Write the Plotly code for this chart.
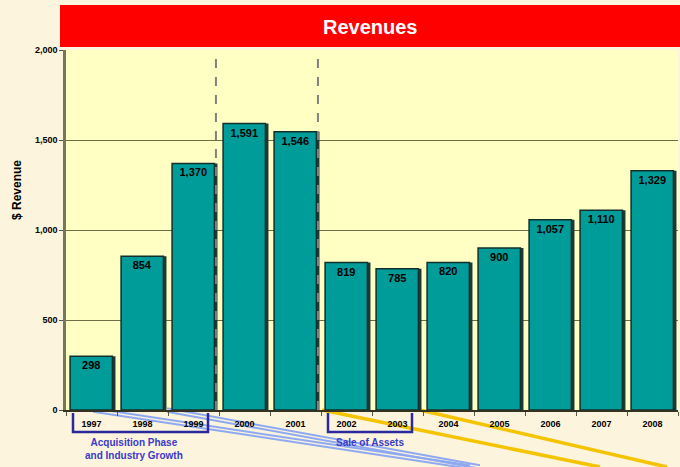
import plotly.graph_objects as go

years = ['1997', '1998', '1999', '2000', '2001', '2002', '2003', '2004', '2005', '2006', '2007', '2008']
revenue = [298, 854, 1370, 1591, 1546, 819, 785, 820, 900, 1057, 1110, 1329]
labels = [f"{v:,}" for v in revenue]
y_ticks = [0, 500, 1000, 1500, 2000]

W, H = 680, 467
PL, PR, PT, PB = 66, 678, 50, 410   # plot area in window pixels
ML, MR, MT, MB = PL, W - PR, PT, H - PB
PW = PR - PL
PH = PB - PT

def px(x):
    return (x - PL) / PW

def py(y):
    return (PB - y) / PH

FONT = "Arial, Liberation Sans, sans-serif"

fig = go.Figure()

# shadow
fig.add_trace(go.Bar(
    x=years, y=revenue, width=0.83, offset=-0.36,
    marker=dict(color="#1d3a33", line=dict(width=0)),
    hoverinfo="skip", showlegend=False,
))
fig.add_trace(go.Bar(
    x=years, y=revenue, width=0.83, offset=-0.42,
    marker=dict(color="#009c9a", line=dict(color="#12302b", width=1.5)),
    text=labels, textposition="inside", insidetextanchor="end",
    textangle=0,
    textfont=dict(family=FONT, size=11, color="black", weight="bold"),
    showlegend=False,
))

shapes = []
# red header
shapes.append(dict(type="rect", xref="paper", yref="paper",
                   x0=px(60), x1=px(684), y0=py(47), y1=py(5),
                   fillcolor="#ff0000", line=dict(width=0), layer="below"))
# dashed separators
for xv in [2.44, 4.44]:
    shapes.append(dict(type="line", xref="x", yref="paper", x0=xv, x1=xv, y0=0, y1=1,
                       line=dict(color="#808080", width=2, dash="dash"), layer="above"))
# decorative lines below axis
blue = "#8ea9f2"
for (x0, y0, x1, y1) in [(93, 410, 470, 467), (167, 410, 480, 467)]:
    for d in (-1.7, 1.7):
        shapes.append(dict(type="line", xref="paper", yref="paper",
                           x0=px(x0), y0=py(y0 + d), x1=px(x1), y1=py(y1 + d),
                           line=dict(color=blue, width=2), layer="below"))
gold = "#f5c400"
for (x0, y0, x1, y1) in [(322, 410, 600, 467), (420, 410, 667, 467)]:
    shapes.append(dict(type="line", xref="paper", yref="paper",
                       x0=px(x0), y0=py(y0), x1=px(x1), y1=py(y1),
                       line=dict(color=gold, width=3.5), layer="below"))
# brackets
bcol = "#2a2a9e"
for (xa, xb) in [(73, 208), (328, 412)]:
    shapes.append(dict(type="path", xref="paper", yref="paper",
                       path=f"M {px(xa)} {py(413)} L {px(xa)} {py(432)} L {px(xb)} {py(432)} L {px(xb)} {py(413)}",
                       line=dict(color=bcol, width=2.5), layer="above"))

annotations = [
    dict(text="Revenues", xref="paper", yref="paper", x=px(370), y=py(27),
         showarrow=False, font=dict(family=FONT, size=20, color="white", weight="bold"),
         xanchor="center", yanchor="middle"),
    dict(text="$ Revenue", xref="paper", yref="paper", x=px(17), y=py(190),
         showarrow=False, textangle=-90,
         font=dict(family=FONT, size=12, color="black", weight="bold"),
         xanchor="center", yanchor="middle"),
    dict(text="Acquisition Phase<br>and Industry Growth", xref="paper", yref="paper",
         x=px(134), y=py(449), showarrow=False, align="center",
         font=dict(family=FONT, size=10, color="#3a3acb", weight="bold"),
         xanchor="center", yanchor="middle"),
    dict(text="Sale of Assets", xref="paper", yref="paper",
         x=px(370), y=py(443), showarrow=False,
         font=dict(family=FONT, size=10, color="#3a3acb", weight="bold"),
         xanchor="center", yanchor="middle"),
]

fig.update_layout(
    width=W, height=H,
    margin=dict(l=ML, r=MR, t=MT, b=MB, pad=0),
    paper_bgcolor="#fcf4dc",
    plot_bgcolor="#ffffc4",
    barmode="overlay",
    bargap=0.14,
    shapes=shapes,
    annotations=annotations,
    font=dict(family=FONT),
)
fig.update_xaxes(
    type="category", range=[-0.5, 11.5],
    showgrid=False, ticks="outside", tickson="boundaries", ticklen=4,
    tickcolor="#555544", showline=True, linecolor="#333322", linewidth=1.5,
    tickfont=dict(family=FONT, size=9, color="black", weight="bold"),
    ticklabelstandoff=4,
)
fig.update_yaxes(
    range=[0, 2000], tickvals=y_ticks, tickformat=",",
    showgrid=True, gridcolor="#6e6e48", gridwidth=1,
    ticks="outside", ticklen=4, tickcolor="#555544",
    showline=True, linecolor="#77775a", linewidth=2.5,
    zeroline=False,
    tickfont=dict(family=FONT, size=9, color="black", weight="bold"),
)

fig.write_html(
    "out.html",
    config={"displayModeBar": False},
    post_script="document.body.style.margin='0';document.body.style.overflow='hidden';",
)
